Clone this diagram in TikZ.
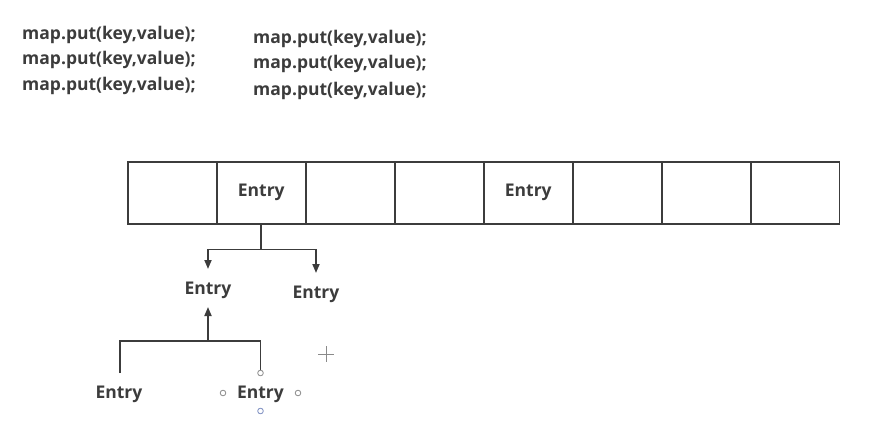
\documentclass[tikz,border=0pt]{standalone}
\usepackage{fontspec}
\setmainfont{Open Sans}
\usetikzlibrary{arrows.meta,calc}
\definecolor{ink}{HTML}{3C3C3C}
\definecolor{hgray}{HTML}{8A8A8A}
\definecolor{hblue}{HTML}{7A8CC0}
\begin{document}
\begin{tikzpicture}[x=1pt,y=-1pt,
  bigfont/.style={font=\bfseries\fontsize{17.5}{20}\selectfont},
  code/.style={anchor=west,inner sep=0pt,bigfont,text=ink},
  lbl/.style={inner sep=0pt,bigfont,text=ink},
  cell/.style={draw=ink,line width=1.6pt,minimum width=89pt,minimum height=62pt,inner sep=0pt,anchor=north west,bigfont,text=ink},
  link/.style={draw=ink,line width=1.8pt},
  arr/.style={link,-{Triangle[length=9pt,width=7pt]}},
  handle/.style={draw=hgray,line width=0.8pt,fill=white}
]
\useasboundingbox (0,0) rectangle (896,446);
% code lines
\node[code] (c1) at (22,34.5) {map.put(key,value);};
\node[code] (c2) at (22,59.5) {map.put(key,value);};
\node[code] (c3) at (22,85.5) {map.put(key,value);};
\node[code] (c4) at (253,38.5) {map.put(key,value);};
\node[code] (c5) at (253,63.5) {map.put(key,value);};
\node[code] (c6) at (253,90.5) {map.put(key,value);};
% array
\node[cell] (a1) at (127,161) {};
\node[cell] (a2) at (216,161) {\raisebox{-1.5pt}{Entry}};
\node[cell] (a3) at (305,161) {};
\node[cell] (a4) at (394,161) {};
\node[cell] (a5) at (483,161) {\raisebox{-1.5pt}{Entry}};
\node[cell] (a6) at (572,161) {};
\node[cell] (a7) at (661,161) {};
\node[cell] (a8) at (749.5,161) {};
% tree
\node[lbl] (e1) at (208,290.5) {Entry};
\node[lbl] (e2) at (316,294.5) {Entry};
\node[lbl] (e3) at (119,394.5) {Entry};
\node[lbl] (e4) at (260.5,394.5) {Entry};
\coordinate (j1) at ($(a2.south)+(0,25)$);
\coordinate (t1) at (208,269);
\coordinate (t2) at (316,273);
\coordinate (j2) at (208,341);
\coordinate (b3) at (120,373);
\coordinate (b4) at (260.5,372);
\coordinate (u1) at (208,307);
\draw[link] (a2.south) -- (j1);
\draw[arr] (j1) -| (t1);
\draw[arr] (j1) -| (t2);
\draw[link] (b3) |- (j2) -| (b4);
\draw[arr] (j2) -- (u1);
% selection handles and cursor
\draw[handle] (223,393) circle (2.8pt);
\draw[handle] (298,393) circle (2.8pt);
\draw[handle] (260.5,373) circle (2.8pt);
\draw[handle,draw=hblue] (260.5,411) circle (2.8pt);
\draw[hgray,line width=0.9pt] (318,354) -- (334,354) (326,346) -- (326,362);
\end{tikzpicture}
\end{document}
